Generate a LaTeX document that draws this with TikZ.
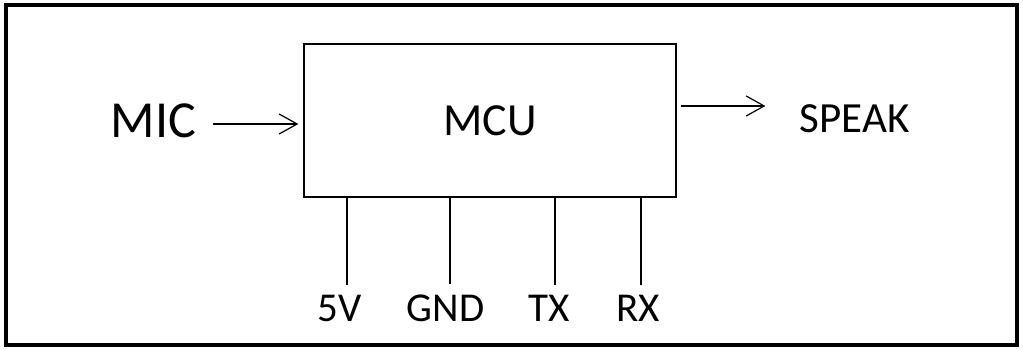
\documentclass[tikz,border=0pt]{standalone}
\usepackage{fontspec}
\setmainfont{Carlito}
\usepackage{tikz}
\usetikzlibrary{arrows.meta,positioning,calc}

\begin{document}
\begin{tikzpicture}[
  x=1pt, y=-1pt,
  block/.style={draw, line width=1.3pt, minimum width=372pt, minimum height=153pt, inner sep=0pt, font=\fontsize{46}{50}\selectfont},
  io/.style={inner sep=0pt},
  pinlbl/.style={inner sep=10pt, font=\fontsize{41}{45}\selectfont},
  pin/.style={line width=2pt},
  arr/.style={-{Straight Barb[length=18pt, width=20pt, line width=1.2pt]}, line width=1.2pt},
  frame/.style={line width=3.5pt}
]
  \useasboundingbox (0,0) rectangle (1023,350);
  \draw[frame] (6,5) rectangle (1017,345);

  \node[block] (mcu) at (490,120.5) {MCU};
  \node[io, font=\fontsize{52}{56}\selectfont] (mic) at (153.5,120.5) {MIC};
  \node[io, font=\fontsize{43}{47}\selectfont] (speak) at (854.5,118.5) {SPEAK};

  \draw[arr] ([xshift=17pt,yshift=-3.5pt]mic.east) -- ([xshift=-5pt,yshift=-3.5pt]mcu.west);
  \draw[arr] ([xshift=4pt,yshift=14.5pt]mcu.east) -- ([xshift=-34pt,yshift=12.5pt]speak.west);

  % pins under the MCU
  \foreach \x/\dx/\name/\txt in {340/7/p5v/5V, 445.5/4.5/gnd/GND, 549.5/5.5/tx/TX, 638/3/rx/RX}{
    \node[pinlbl] (\name) at (\x,308) {\txt};
    \draw[pin] ([xshift=\dx pt]\name.north) -- ([xshift=\dx pt]\name.north |- mcu.south);
  }
\end{tikzpicture}
\end{document}
